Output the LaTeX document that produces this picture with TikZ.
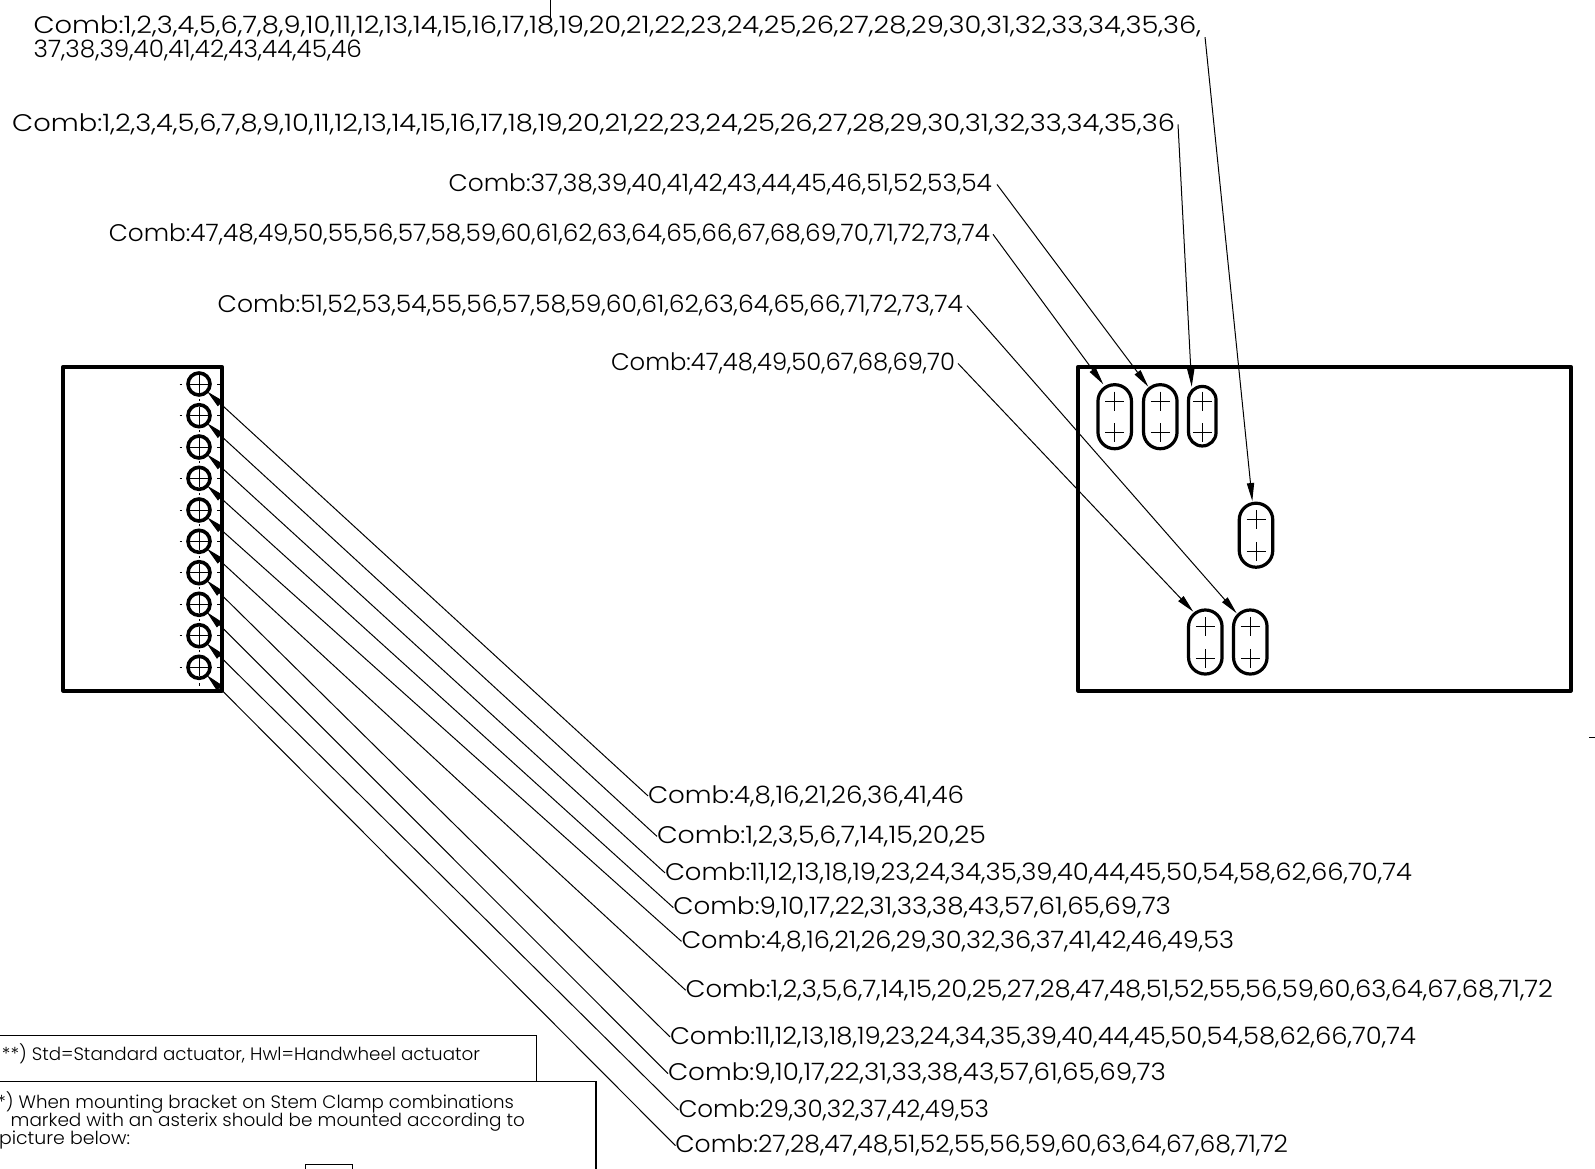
\documentclass[tikz,border=0pt]{standalone}
\usepackage{graphicx}
\usepackage{fontspec}
\setmainfont{Poppins}[UprightFont=* Light]
\usetikzlibrary{arrows.meta}
\newcommand\fw[2]{\resizebox{#1\dimexpr0.5pt\relax}{\height}{#2}}
\tikzset{
  px/.style={x=0.5pt,y=-0.5pt},
  body/.style={line width=1.9pt,line cap=round,line join=round},
  hole/.style={circle,draw,line width=1.8pt,minimum size=11pt,inner sep=0pt,outer sep=0pt},
  slot/.style={rectangle,draw,line width=1.6pt,minimum width=16.75pt,minimum height=32pt,rounded corners=8.3pt,inner sep=0pt,outer sep=0pt},
  slotn/.style={slot,minimum width=13.75pt,minimum height=29.75pt,rounded corners=6.8pt},
  thin line/.style={line width=0.5pt},
  lead/.style={line width=0.5pt,-{Triangle[length=9pt,width=3.6pt]}},
  lbl/.style={anchor=base west,inner sep=0pt,outer sep=0pt,font=\fontsize{12pt}{14pt}\selectfont},
  note/.style={anchor=base west,inner sep=0pt,outer sep=0pt,font=\fontsize{9pt}{11pt}\selectfont}
}
\begin{document}
\begin{tikzpicture}[px]
\useasboundingbox (0,0) rectangle (1595,1168);
\clip (0,0) rectangle (1595,1168);
% bodies
\draw[body] (63.3,366.7) rectangle (221.7,690.7);
\draw[body] (1078.3,366.7) rectangle (1570.7,690.7);
\draw[thin line] (1589,737.7) -- (1595,737.7);
% holes
\foreach \n/\y in {1/384,2/415.7,3/447,4/478.3,5/510,6/541.3,7/572.7,8/604.3,9/635.7,10/667.3}{
  \node[hole] (c\n) at (199,\y) {};
  \draw[thin line] (190,\y) -- (208,\y);
  \draw[thin line] (199,\y-9) -- (199,\y+9);
  \draw[thin line] (179.5,\y) -- (182,\y);
  \draw[thin line] (217,\y) -- (220,\y);
  \draw[thin line] (199,\y-15) -- (199,\y-17);
}
\draw[thin line] (199,683) -- (199,686);
% slots
\foreach \n/\x/\y/\a/\b/\s in {A/1114.7/416.7/401/432.7/slot,B/1160.3/416.7/401/432.7/slot,C/1202.3/416.2/401/432.7/slotn,D/1256/535.2/519.3/551.3/slot,E/1205.3/642/626.7/658.3/slot,F/1250.3/642/626.7/658.3/slot}{
  \node[\s] (s\n) at (\x,\y) {};
  \draw[thin line] (\x-9.5,\a) -- (\x+9.5,\a);
  \draw[thin line] (\x,\a-9.5) -- (\x,\a+9.5);
  \draw[thin line] (\x-9.5,\b) -- (\x+9.5,\b);
  \draw[thin line] (\x,\b-9.5) -- (\x,\b+9.5);
}
\coordinate (tA) at (1103.3,384.3);
\coordinate (tB) at (1148.3,386.7);
\coordinate (tC) at (1191.7,386.7);
\coordinate (tD) at (1252.3,501);
\coordinate (tE) at (1193.3,611.7);
\coordinate (tF) at (1236.7,613.3);
% upper labels
\node[lbl] (u1) at (33.6,33.3) {\fw{1167.4}{Comb:1,2,3,4,5,6,7,8,9,10,11,12,13,14,15,16,17,18,19,20,21,22,23,24,25,26,27,28,29,30,31,32,33,34,35,36,}};
\node[lbl] (u1b) at (33.6,57.3) {\fw{328.4}{37,38,39,40,41,42,43,44,45,46}};
\node[lbl] (u2) at (12.2,131.5) {\fw{1162.8}{Comb:1,2,3,4,5,6,7,8,9,10,11,12,13,14,15,16,17,18,19,20,21,22,23,24,25,26,27,28,29,30,31,32,33,34,35,36}};
\node[lbl] (u3) at (448.6,191.6) {\fw{543.4}{Comb:37,38,39,40,41,42,43,44,45,46,51,52,53,54}};
\node[lbl] (u4) at (108.8,241.5) {\fw{881.2}{Comb:47,48,49,50,55,56,57,58,59,60,61,62,63,64,65,66,67,68,69,70,71,72,73,74}};
\node[lbl] (u5) at (217.7,312.7) {\fw{745.3}{Comb:51,52,53,54,55,56,57,58,59,60,61,62,63,64,65,66,71,72,73,74}};
\node[lbl] (u6) at (611,370.6) {\fw{344}{Comb:47,48,49,50,67,68,69,70}};
\draw[lead] ([shift={(2pt,-5.5pt)}]u1.east) -- (tD);
\draw[lead] ([xshift=1.5pt]u2.east) -- (tC);
\draw[lead] ([xshift=2.5pt]u3.east) -- (tB);
\draw[lead] ([xshift=1.5pt]u4.east) -- (tA);
\draw[lead] ([xshift=2pt]u5.east) -- (tF);
\draw[lead] ([xshift=1.5pt]u6.east) -- (tE);
\coordinate (topa) at (550,0);
\coordinate (topb) at (550,18);
\draw[thin line] (topa) -- (topb);
% lower labels
\node[lbl] (l1) at (648,803) {\fw{316}{Comb:4,8,16,21,26,36,41,46}};
\node[lbl] (l2) at (657,843.5) {\fw{329}{Comb:1,2,3,5,6,7,14,15,20,25}};
\node[lbl] (l3) at (665,880) {\fw{747}{Comb:11,12,13,18,19,23,24,34,35,39,40,44,45,50,54,58,62,66,70,74}};
\node[lbl] (l4) at (673.4,914.8) {\fw{497.6}{Comb:9,10,17,22,31,33,38,43,57,61,65,69,73}};
\node[lbl] (l5) at (681.5,948.5) {\fw{552.5}{Comb:4,8,16,21,26,29,30,32,36,37,41,42,46,49,53}};
\node[lbl] (l6) at (685.6,997.3) {\fw{867.4}{Comb:1,2,3,5,6,7,14,15,20,25,27,28,47,48,51,52,55,56,59,60,63,64,67,68,71,72}};
\node[lbl] (l7) at (670,1044) {\fw{746}{Comb:11,12,13,18,19,23,24,34,35,39,40,44,45,50,54,58,62,66,70,74}};
\node[lbl] (l8) at (668,1080.7) {\fw{498}{Comb:9,10,17,22,31,33,38,43,57,61,65,69,73}};
\node[lbl] (l9) at (678.5,1117.3) {\fw{310.5}{Comb:29,30,32,37,42,49,53}};
\node[lbl] (l10) at (675.4,1152.7) {\fw{612.6}{Comb:27,28,47,48,51,52,55,56,59,60,63,64,67,68,71,72}};
\foreach \n in {1,...,10}{
  \draw[lead] (l\n.west) -- (c\n);
}
% notes
\draw[thin line] (-5,1035.3) rectangle (536,1081.7);
\draw[line width=0.7pt] (-5,1081.7) rectangle (596,1185);
\draw[thin line] (305,1164) rectangle (352.6,1185);
\node[note] (n1) at (2,1060.7) {\fw{478}{**) Std=Standard actuator, Hwl=Handwheel actuator}};
\node[note] (n2) at (-2.6,1108.3) {\fw{516.6}{*) When mounting bracket on Stem Clamp combinations}};
\node[note] (n3) at (10.7,1126) {\fw{514.3}{marked with an asterix should be mounted according to}};
\node[note] (n4) at (-1,1144) {\fw{131}{picture below:}};
\end{tikzpicture}
\end{document}
